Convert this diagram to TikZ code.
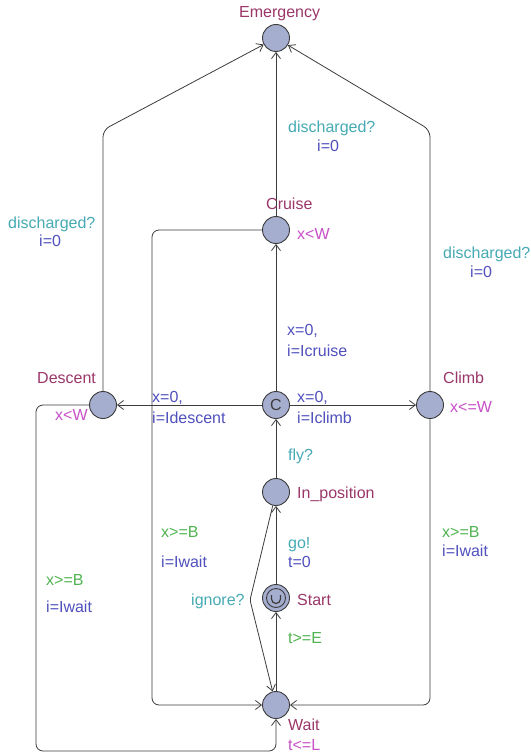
\documentclass[tikz,border=0pt]{standalone}
\usepackage{fontspec}
\setmainfont{Liberation Sans}
\usetikzlibrary{arrows.meta}
\definecolor{edgec}{RGB}{60,60,60}
\definecolor{locfill}{RGB}{166,174,208}
\definecolor{locname}{RGB}{155,55,105}
\definecolor{invc}{RGB}{200,80,200}
\definecolor{syncc}{RGB}{70,170,180}
\definecolor{updc}{RGB}{80,80,190}
\definecolor{guardc}{RGB}{80,180,80}
\begin{document}
\begin{tikzpicture}[x=1pt,y=-1pt,
  loc/.style={circle,draw=edgec,fill=locfill,line width=0.9pt,minimum size=27pt,inner sep=0pt},
  edge/.style={draw=edgec,line width=0.8pt,-{Straight Barb[length=6pt,width=9pt]},rounded corners=7pt},
  lbl/.style={anchor=base west,inner sep=0pt,font=\fontsize{16}{19}\selectfont},
  nm/.style={lbl,text=locname},
  inv/.style={lbl,text=invc},
  syn/.style={lbl,text=syncc},
  upd/.style={lbl,text=updc},
  grd/.style={lbl,text=guardc}]
\useasboundingbox (0,0) rectangle (530,754);
\fill[white] (0,0) rectangle (530,754);
% locations
\node[loc] (em) at (276,38) {};
\node[loc] (cr) at (276,230) {};
\node[loc] (de) at (103,405) {};
\node[loc,font=\fontsize{16}{19}\selectfont,text=edgec] (cm) at (276,405) {C};
\node[loc] (cl) at (430,405) {};
\node[loc] (ip) at (276,492) {};
\node[loc] (st) at (276,598) {};
\node[loc] (wa) at (276,705) {};
\draw[edgec,line width=0.9pt] (st.center) circle[radius=9.5pt];
\draw[edgec,line width=1.2pt] ([shift={(-4.5,-3)}]st.center) -- ++(0,4) arc[start angle=180,end angle=0,radius=4.5] -- ++(0,-4);
% corner coordinates
\coordinate (dkE) at (103,130);
\coordinate (ckE) at (430,130);
\coordinate (ig) at (250,600);
\coordinate (c1) at (152,230);
\coordinate (c2) at (152,705);
\coordinate (k1) at (430,705);
\coordinate (d1) at (36,405);
\coordinate (d2) at (36,751);
\coordinate (d3) at (276,751);
% edges
\draw[edge] (de) -- (dkE) -- (em);
\draw[edge] (cl) -- (ckE) -- (em);
\draw[edge] (cr) -- (em);
\draw[edge] (cm) -- (cr);
\draw[edge] (cm) -- (de);
\draw[edge] (cm) -- (cl);
\draw[edge] (ip) -- (cm);
\draw[edge] (st) -- (ip);
\draw[edge] (wa) -- (st);
\draw[edge,rounded corners=2pt] (ip) -- (ig) -- (wa);
\draw[edge] (cr) -- (c1) -- (c2) -- (wa);
\draw[edge] (cl) -- (k1) -- (wa);
\draw[edge] (de) -- (d1) -- (d2) -- (d3) -- (wa);
% names and invariants
\node[nm] (tEm) at (239,18) {Emergency};
\node[nm] (tCr) at (266,209) {Cruise};
\node[inv] (iCr) at (297,239) {x<W};
\node[nm] (tDe) at (37,383) {Descent};
\node[inv] (iDe) at (55,420) {x<W};
\node[nm] (tCl) at (443,383) {Climb};
\node[inv] (iCl) at (450,412) {x<=W};
\node[nm] (tIp) at (297,498) {In\_position};
\node[nm] (tSt) at (297,605) {Start};
\node[nm] (tWa) at (288,730) {Wait};
\node[inv] (iWa) at (288,750) {t<=L};
% edge labels
\node[syn] (s1) at (288,133) {discharged?};
\node[upd] (u1) at (317,152) {i=0};
\node[syn] (s2) at (8,228) {discharged?};
\node[upd] (u2) at (39,246) {i=0};
\node[syn] (s3) at (443,258) {discharged?};
\node[upd] (u3) at (470,277) {i=0};
\node[upd] (u4) at (287,335) {x=0,};
\node[upd] (u4b) at (287,356) {i=Icruise};
\node[upd] (u5) at (152,402) {x=0,};
\node[upd] (u5b) at (152,423) {i=Idescent};
\node[upd] (u6) at (297,402) {x=0,};
\node[upd] (u6b) at (297,423) {i=Iclimb};
\node[syn] (s7) at (288,460) {fly?};
\node[grd] (g8) at (161,537) {x>=B};
\node[upd] (u8) at (161,567) {i=Iwait};
\node[grd] (g9) at (442,537) {x>=B};
\node[upd] (u9) at (442,556) {i=Iwait};
\node[syn] (s10) at (288,548) {go!};
\node[upd] (u10) at (288,567) {t=0};
\node[syn] (s11) at (191,605) {ignore?};
\node[grd] (g12) at (288,643) {t>=E};
\node[grd] (g13) at (46,585) {x>=B};
\node[upd] (u13) at (46,612) {i=Iwait};
\end{tikzpicture}
\end{document}
